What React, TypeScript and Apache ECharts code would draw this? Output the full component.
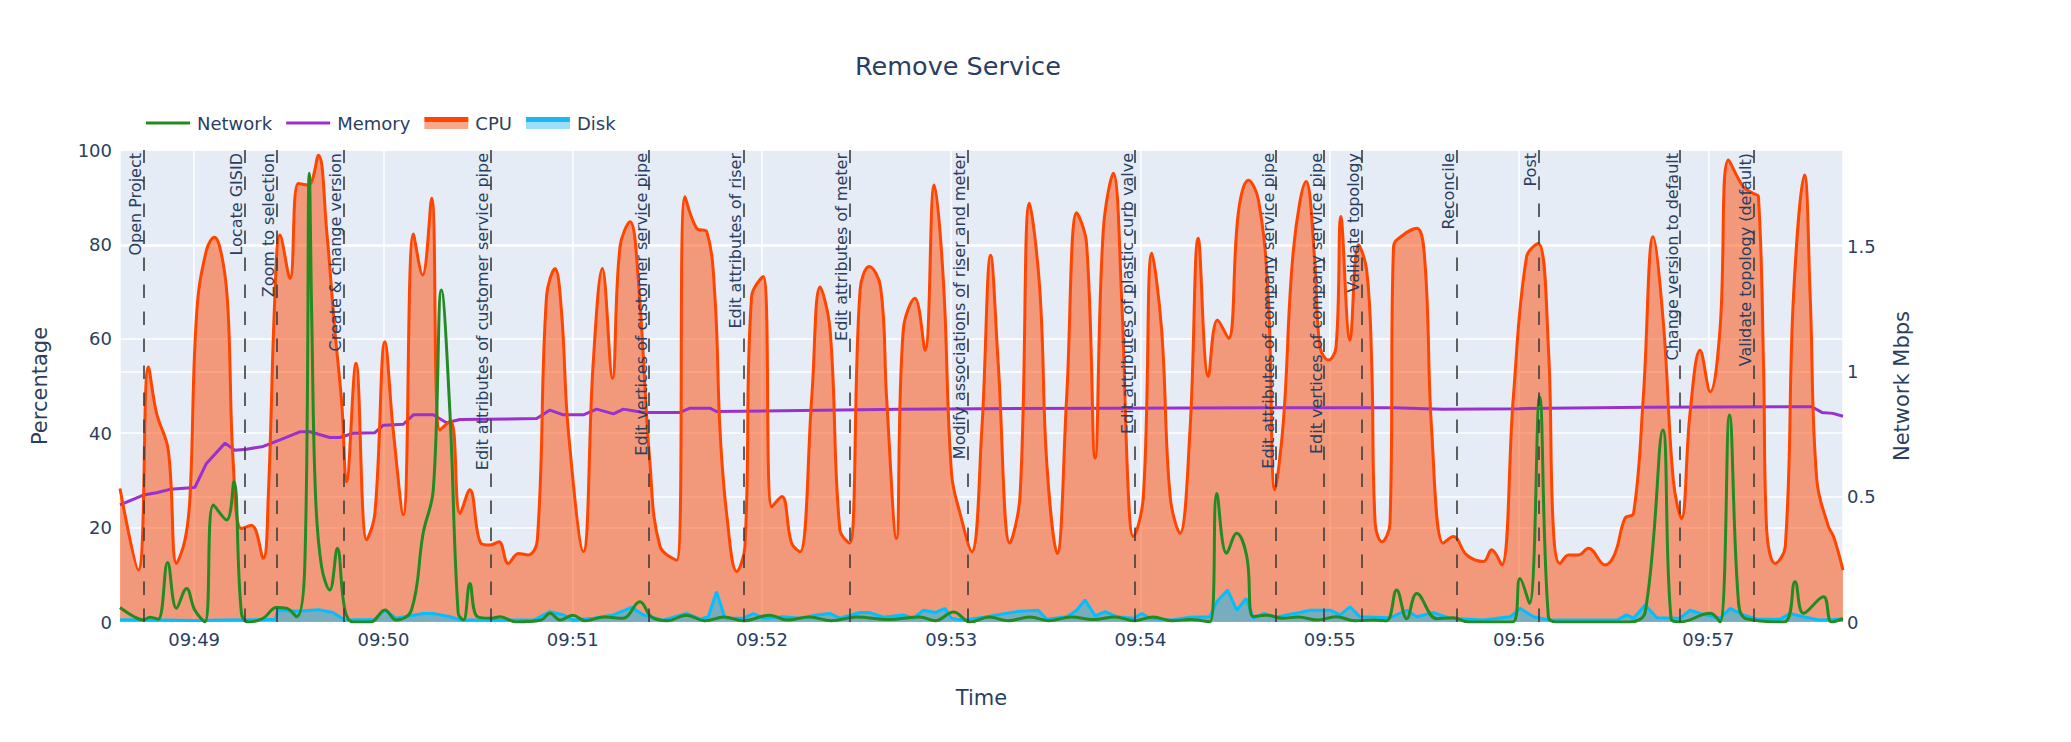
import React, { useEffect, useRef } from "react";
import * as echarts from "echarts";

// Seconds after 09:48:00
const BASE = new Date(2024, 0, 1, 9, 48, 0).getTime();
const X_MIN_S = 36.5;
const X_MAX_S = 582.7;

const cpuSeconds = [36.5, 42.3, 45.5, 48.1, 51.8, 54.4, 57.1, 58.7, 60.8, 63.9, 66.4, 69.2, 70.8, 72.4, 75.0, 78.2, 81.9, 83.5, 85.6, 87.2, 90.4, 93.0, 96.2, 99.4, 102.0, 104.6, 106.8, 108.3, 111.3, 114.7, 117.3, 120.5, 123.1, 126.3, 129.5, 132.4, 135.3, 137.9, 141.3, 144.3, 147.4, 150.8, 153.8, 156.6, 159.6, 162.8, 165.9, 168.8, 171.7, 174.4, 176.5, 178.6, 183.4, 186.5, 189.4, 192.6, 195.0, 198.2, 200.8, 204.5, 207.7, 213.0, 215.6, 219.3, 222.5, 225.1, 226.7, 228.8, 232.0, 234.6, 236.7, 240.4, 243.1, 246.3, 249.4, 252.1, 255.8, 258.4, 261.6, 264.7, 267.8, 271.1, 274.0, 277.6, 279.5, 282.6, 284.8, 288.5, 291.7, 294.6, 297.5, 300.1, 302.8, 306.5, 309.7, 312.5, 314.9, 318.6, 321.8, 324.8, 328.1, 330.3, 333.6, 336.6, 339.8, 342.9, 345.6, 348.2, 351.4, 354.0, 356.2, 357.7, 360.9, 363.6, 366.7, 369.4, 372.5, 375.7, 378.3, 381.5, 384.4, 387.9, 391.0, 394.2, 397.4, 400.5, 402.6, 405.3, 408.5, 412.5, 415.3, 416.9, 419.6, 422.0, 423.5, 426.4, 429.1, 431.7, 433.3, 434.4, 436.5, 439.1, 440.2, 443.3, 447.6, 450.2, 452.3, 456.0, 459.2, 463.4, 468.7, 471.3, 474.5, 478.2, 482.4, 486.1, 489.3, 490.9, 493.0, 495.7, 498.8, 502.0, 507.3, 510.4, 513.6, 516.3, 519.4, 522.5, 525.8, 528.9, 531.5, 534.2, 537.4, 540.6, 543.7, 546.4, 551.1, 554.3, 555.9, 557.5, 558.5, 561.2, 564.4, 567.0, 570.5, 572.3, 574.4, 578.1, 579.7, 582.7];
const cpuValues = [28.3, 11.0, 54.0, 44.2, 36.4, 12.4, 17.4, 26.6, 65.4, 78.8, 81.5, 76.0, 65.4, 33.6, 19.8, 20.5, 13.5, 26.6, 68.9, 82.0, 72.8, 92.9, 92.6, 98.9, 83.0, 61.9, 46.3, 29.7, 54.8, 17.4, 23.0, 59.4, 40.7, 22.7, 82.2, 73.5, 89.8, 40.7, 42.6, 23.0, 28.0, 16.8, 16.3, 17.0, 12.4, 14.5, 14.2, 17.4, 68.9, 74.9, 65.4, 40.7, 14.9, 54.8, 74.9, 51.6, 79.5, 84.8, 72.5, 33.6, 16.0, 13.1, 90.1, 83.4, 82.7, 68.9, 40.7, 23.0, 10.7, 16.0, 68.9, 73.2, 24.4, 26.6, 16.7, 14.9, 47.7, 71.0, 61.9, 19.5, 16.7, 70.3, 75.3, 71.0, 47.7, 17.7, 61.9, 68.6, 57.6, 92.6, 72.5, 31.5, 23.0, 14.9, 40.7, 77.7, 54.8, 16.7, 26.6, 88.7, 70.3, 33.6, 14.5, 47.7, 86.7, 80.2, 34.7, 83.0, 95.1, 68.9, 26.6, 18.1, 26.6, 78.1, 61.9, 26.6, 18.8, 40.7, 81.3, 52.0, 64.0, 60.1, 86.6, 93.6, 89.4, 68.9, 28.0, 42.5, 79.0, 93.3, 76.0, 58.3, 55.5, 58.3, 85.9, 59.7, 79.9, 74.6, 54.8, 20.9, 17.0, 20.9, 79.5, 82.0, 83.4, 76.0, 40.7, 16.7, 18.1, 14.2, 12.8, 15.3, 12.1, 47.7, 77.4, 80.2, 58.3, 19.5, 12.4, 14.2, 14.2, 15.6, 12.1, 14.5, 22.0, 23.0, 47.7, 81.6, 63.0, 30.1, 21.9, 44.2, 57.6, 48.8, 61.9, 97.9, 92.2, 90.8, 90.1, 54.8, 19.5, 12.4, 16.0, 68.9, 94.7, 68.9, 30.1, 20.2, 18.1, 11.0];

const memorySeconds = [36.5, 43.9, 48.1, 52.3, 60.2, 63.9, 69.8, 72.9, 76.6, 81.9, 87.2, 93.5, 96.7, 103.0, 106.2, 110.4, 117.3, 120.0, 126.3, 129.5, 135.8, 140.0, 144.3, 168.6, 172.8, 177.0, 183.4, 187.6, 192.9, 196.1, 202.4, 214.0, 217.2, 223.5, 225.6, 283.8, 350.0, 400.0, 440.0, 456.0, 480.0, 520.0, 572.8, 576.0, 579.5, 582.7];
const memoryValues = [24.8, 26.9, 27.4, 28.1, 28.5, 33.6, 37.9, 36.4, 36.6, 37.2, 38.6, 40.3, 40.3, 39.1, 39.1, 40.0, 40.1, 41.7, 41.9, 43.9, 43.9, 42.2, 42.9, 43.1, 44.9, 43.9, 43.9, 45.1, 44.1, 45.1, 44.4, 44.4, 45.3, 45.3, 44.6, 45.1, 45.3, 45.4, 45.4, 45.1, 45.2, 45.5, 45.6, 44.4, 44.2, 43.6];

const diskSeconds = [36.5, 50, 60, 70, 80, 85.8, 86.5, 93, 99.4, 104, 107.8, 112, 117, 120.5, 124, 130, 132.6, 135.8, 141.1, 145, 160, 168, 172.8, 177.0, 180.2, 186.5, 192.9, 198.7, 202.4, 208.7, 216.1, 220.4, 223.0, 225.6, 228.3, 234.1, 237.3, 240.4, 246.8, 252.1, 257.3, 261.6, 264.7, 271.1, 274.2, 278.5, 284.8, 288.0, 291.2, 294.9, 298.0, 300.1, 303.8, 310.2, 320.7, 327.6, 330.3, 336.6, 339.8, 342.4, 345.6, 348.8, 352.5, 357.7, 360.4, 363.0, 369.4, 375.7, 382.0, 384.2, 387.6, 390.5, 393.5, 395.8, 399.0, 403.2, 406.3, 410.6, 413.8, 420.1, 423.3, 426.4, 429.6, 439.1, 444.4, 447.6, 452.9, 458.1, 468.7, 477.2, 480.3, 484.6, 489.8, 511.0, 514.1, 516.3, 520.0, 523.7, 531.1, 534.2, 537.4, 543.7, 546.9, 551.1, 555.4, 562.8, 565.9, 570.2, 575.4, 582.7];
const diskValues = [0.5, 0.4, 0.3, 0.4, 0.5, 0.6, 2.5, 2.3, 2.6, 2.0, 0.4, 0.5, 0.5, 2.5, 0.8, 1.5, 1.8, 1.8, 1.1, 0.4, 0.4, 0.5, 2.2, 1.5, 0.4, 0.8, 1.5, 3.1, 1.5, 0.4, 1.8, 0.6, 1.1, 6.4, 0.8, 0.8, 1.8, 0.8, 1.1, 0.8, 1.5, 1.8, 0.8, 2.0, 2.0, 1.0, 1.5, 0.8, 2.5, 2.0, 2.9, 0.8, 0.4, 1.0, 2.2, 2.5, 0.6, 1.1, 2.5, 4.7, 1.3, 2.2, 1.1, 0.8, 1.8, 0.8, 0.4, 1.0, 1.1, 4.3, 6.8, 2.5, 5.0, 0.8, 1.8, 1.0, 1.5, 2.0, 2.5, 2.5, 1.5, 3.2, 1.1, 0.9, 2.5, 1.1, 2.0, 0.8, 0.4, 1.1, 2.9, 1.1, 0.4, 0.4, 1.5, 0.8, 3.6, 0.9, 0.8, 2.5, 1.8, 0.8, 2.9, 1.5, 0.6, 0.6, 1.8, 1.1, 0.4, 0.6];

const networkSeconds = [36.5, 41.0, 43.9, 46.0, 48.6, 51.6, 54.4, 57.6, 60.2, 63.4, 66.1, 70.3, 72.6, 75.0, 77.2, 81.9, 86.1, 89.3, 92.5, 95.1, 96.5, 97.3, 98.5, 100.4, 103.0, 105.4, 107.8, 110.4, 116.0, 120.5, 124.0, 128.9, 132.6, 135.8, 138.4, 141.1, 143.7, 145.4, 147.4, 149.8, 154.3, 157.0, 162.0, 170.0, 172.8, 176.0, 180.0, 184.0, 190.0, 196.0, 201.3, 205.0, 210.0, 216.0, 222.0, 228.0, 234.0, 242.5, 248.0, 255.0, 262.0, 270.0, 280.0, 290.0, 295.0, 300.7, 306.0, 312.0, 318.0, 325.0, 331.0, 338.0, 345.0, 352.0, 358.0, 364.0, 370.0, 376.0, 382.0, 384.2, 387.3, 390.5, 393.7, 395.8, 400.0, 405.0, 410.0, 416.0, 422.0, 428.0, 434.0, 438.0, 441.2, 444.4, 447.6, 453.9, 459.0, 464.0, 478.0, 480.3, 483.3, 486.5, 489.3, 492.0, 515.0, 520.0, 525.6, 528.2, 531.0, 540.6, 543.7, 546.7, 549.6, 552.0, 564.0, 567.5, 570.2, 576.5, 579.1, 582.7];
const networkValues = [0.058, 0.021, 0.008, 0.019, 0.011, 0.237, 0.055, 0.134, 0.048, 0.0, 0.467, 0.407, 0.56, 0.035, 0.0, 0.015, 0.058, 0.055, 0.021, 0.234, 1.79, 1.2, 0.5, 0.221, 0.128, 0.294, 0.048, 0.0, 0.0, 0.048, 0.008, 0.048, 0.354, 0.526, 1.324, 0.832, 0.035, 0.008, 0.154, 0.021, 0.015, 0.021, 0.0, 0.008, 0.035, 0.008, 0.027, 0.005, 0.02, 0.015, 0.081, 0.02, 0.005, 0.027, 0.005, 0.02, 0.005, 0.027, 0.008, 0.02, 0.005, 0.02, 0.01, 0.02, 0.005, 0.04, 0.0, 0.02, 0.005, 0.02, 0.005, 0.02, 0.01, 0.02, 0.005, 0.02, 0.005, 0.01, 0.0, 0.513, 0.274, 0.354, 0.261, 0.021, 0.027, 0.015, 0.02, 0.008, 0.021, 0.005, 0.008, 0.005, 0.128, 0.013, 0.114, 0.013, 0.017, 0.0, 0.0, 0.174, 0.074, 0.899, 0.021, 0.0, 0.0, 0.04, 0.766, 0.013, 0.0, 0.035, 0.0, 0.826, 0.074, 0.013, 0.0, 0.161, 0.035, 0.101, 0.0, 0.014];

const eventSeconds = [43.9, 76.1, 86.2, 107.3, 154.0, 204.2, 234.3, 267.9, 305.1, 358.3, 403.0, 418.2, 430.1, 460.3, 486.3, 531.1, 554.3];
const eventLabels = [
  "Open Project",
  "Locate GISID",
  "Zoom to selection",
  "Create & change version",
  "Edit attributes of customer service pipe",
  "Edit vertices of customer service pipe",
  "Edit attributes of riser",
  "Edit attributes of meter",
  "Modify associations of riser and meter",
  "Edit attributes of plastic curb valve",
  "Edit attributes of company service pipe",
  "Edit vertices of company service pipe",
  "Validate topology",
  "Reconcile",
  "Post",
  "Change version to default",
  "Validate topology (default)",
];

const percentTicks = [0, 20, 40, 60, 80, 100];
const mbpsTicks = [0, 0.5, 1, 1.5];

const FONT = '"DejaVu Sans", Verdana, sans-serif';
const TEXT = "#2a3f5f";

const toPairs = (ts: number[], vs: number[]) => ts.map((t, i) => [BASE + t * 1000, vs[i]]);
const pad = (n: number) => (n < 10 ? "0" + n : "" + n);

export default function App() {
  const ref = useRef<HTMLDivElement>(null);
  useEffect(() => {
    if (!ref.current) return;
    const chart = echarts.init(ref.current, null, { renderer: "svg" });
    const grad = (top: string, bottom: string) => ({
      type: "linear", x: 0, y: 0, x2: 0, y2: 1,
      colorStops: [
        { offset: 0, color: top }, { offset: 0.4, color: top },
        { offset: 0.4, color: bottom }, { offset: 1, color: bottom },
      ],
    });
    const option: any = {
      animation: false,
      backgroundColor: "#ffffff",
      title: {
        text: "Remove Service",
        left: 850,
        top: 48,
        textStyle: { color: TEXT, fontSize: 25.5, fontWeight: "normal", fontFamily: FONT },
      },
      legend: {
        left: 141,
        top: 109,
        itemWidth: 44,
        itemHeight: 12,
        itemGap: 14,
        textStyle: { color: TEXT, fontSize: 18, fontFamily: FONT, padding: [0, 0, 0, 2] },
        data: [
          { name: "Network", icon: "path://M0,0H44V3H0Z" },
          { name: "Memory", icon: "path://M0,0H44V3H0Z" },
          { name: "CPU", icon: "rect", itemStyle: { color: grad("#FF4500", "#F9A88A") } },
          { name: "Disk", icon: "rect", itemStyle: { color: grad("#1CB8F2", "#9CDDF8") } },
        ],
      },
      grid: {
        left: 120, right: 228, top: 150, bottom: 120,
        show: true, backgroundColor: "#E5ECF6", borderWidth: 0,
      },
      xAxis: {
        type: "time",
        min: BASE + X_MIN_S * 1000,
        max: BASE + X_MAX_S * 1000,
        minInterval: 60000,
        maxInterval: 60000,
        name: "Time",
        nameLocation: "middle",
        nameGap: 65,
        nameTextStyle: { color: TEXT, fontSize: 21, fontFamily: FONT },
        axisLine: { show: false },
        axisTick: { show: false },
        axisLabel: {
          color: TEXT, fontSize: 18, fontFamily: FONT, margin: 8,
          formatter: (v: number) => { const d = new Date(v); return pad(d.getHours()) + ":" + pad(d.getMinutes()); },
        },
        splitLine: { show: true, lineStyle: { color: "#ffffff", width: 1.5 } },
      },
      yAxis: [
        {
          type: "value",
          min: percentTicks[0],
          max: percentTicks[percentTicks.length - 1],
          interval: percentTicks[1] - percentTicks[0],
          name: "Percentage",
          nameLocation: "middle",
          nameGap: 70,
          nameTextStyle: { color: TEXT, fontSize: 21, fontFamily: FONT },
          axisLine: { show: false },
          axisTick: { show: false },
          axisLabel: { color: TEXT, fontSize: 18, fontFamily: FONT, margin: 8 },
          splitLine: { show: true, lineStyle: { color: "#ffffff", width: 1.5 } },
        },
        {
          type: "value",
          min: mbpsTicks[0],
          max: 1.883,
          interval: mbpsTicks[1] - mbpsTicks[0],
          name: "Network Mbps",
          nameLocation: "middle",
          nameGap: 48,
          nameTextStyle: { color: TEXT, fontSize: 21, fontFamily: FONT },
          axisLine: { show: false },
          axisTick: { show: false },
          axisLabel: { color: TEXT, fontSize: 18, fontFamily: FONT, margin: 4, showMaxLabel: false },
          splitLine: { show: true, lineStyle: { color: "#ffffff", width: 1.5 } },
        },
      ],
      series: [
        {
          name: "Memory",
          type: "line",
          yAxisIndex: 0,
          color: "#9932CC",
          showSymbol: false,
          smooth: false,
          lineStyle: { color: "#9932CC", width: 3 },
          data: toPairs(memorySeconds, memoryValues),
        },
        {
          name: "CPU",
          type: "line",
          yAxisIndex: 0,
          color: "#FF4500",
          showSymbol: false,
          smooth: 0.4,
          lineStyle: { color: "#FF4500", width: 3 },
          areaStyle: { color: "rgba(255,69,0,0.5)", opacity: 1 },
          data: toPairs(cpuSeconds, cpuValues),
        },
        {
          name: "Disk",
          type: "line",
          yAxisIndex: 0,
          color: "#00BFFF",
          showSymbol: false,
          smooth: false,
          lineStyle: { color: "#00BFFF", width: 3 },
          areaStyle: { color: "rgba(0,191,255,0.5)", opacity: 1 },
          data: toPairs(diskSeconds, diskValues),
        },
        {
          name: "Network",
          type: "line",
          yAxisIndex: 1,
          color: "#228B22",
          showSymbol: false,
          smooth: 0.4,
          lineStyle: { color: "#228B22", width: 3 },
          data: toPairs(networkSeconds, networkValues),
          markLine: {
            silent: true,
            symbol: ["none", "none"],
            lineStyle: { color: "rgba(60,60,60,0.8)", width: 2, type: [13.5, 13.5] },
            label: {
              show: true,
              position: "insideEndTop",
              formatter: "{b}",
              color: TEXT,
              fontSize: 16,
              fontFamily: FONT,
              distance: [3, 0],
            },
            data: eventSeconds.map((s, i) => ({ name: eventLabels[i], xAxis: BASE + s * 1000 })),
          },
        },
      ],
    };
    chart.setOption(option);
    return () => chart.dispose();
  }, []);
  return (
    <div
      ref={ref}
      style={{ position: "fixed", left: 0, top: 0, width: 2071, height: 742, background: "#fff" }}
    />
  );
}
